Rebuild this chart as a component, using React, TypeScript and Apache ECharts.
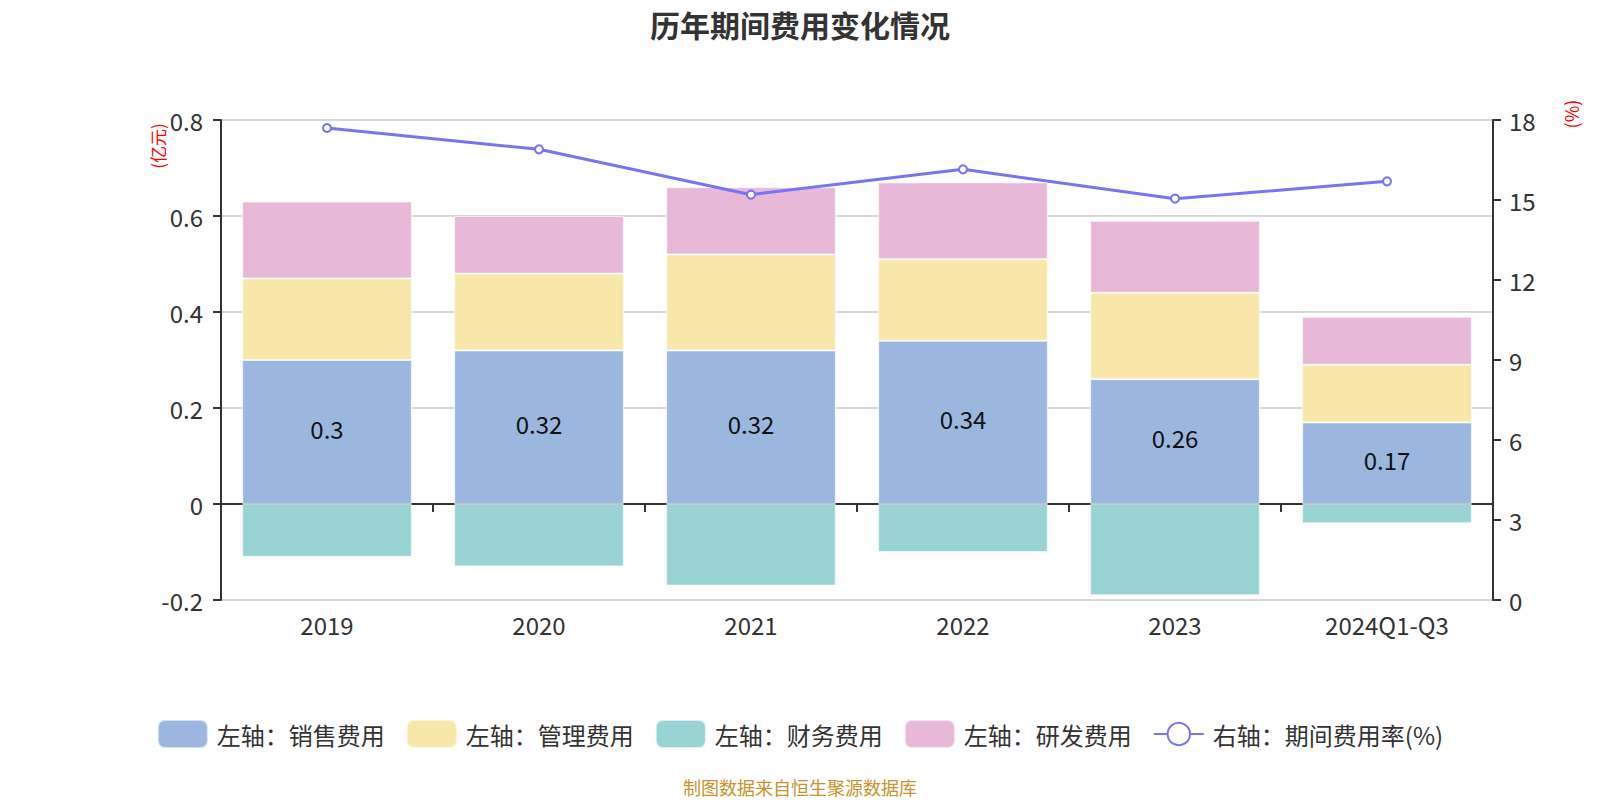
import React, { useEffect, useRef } from "react";
import * as echarts from "echarts";

const categories = ["2019", "2020", "2021", "2022", "2023", "2024Q1-Q3"];
const salesExpense = [0.3, 0.32, 0.32, 0.34, 0.26, 0.17];
const adminExpense = [0.17, 0.16, 0.2, 0.17, 0.18, 0.12];
const financeExpense = [-0.11, -0.13, -0.17, -0.1, -0.19, -0.04];
const rdExpense = [0.16, 0.12, 0.14, 0.16, 0.15, 0.1];
const expenseRate = [17.7, 16.9, 15.2, 16.15, 15.05, 15.7];

const FONT = "'Noto Sans CJK SC', 'Noto Sans', sans-serif";

export default function App() {
  const ref = useRef<HTMLDivElement>(null);
  useEffect(() => {
    if (!ref.current) return;
    const chart = echarts.init(ref.current, undefined, { renderer: "svg" });
    const barBorder = { borderColor: "rgba(255,255,255,0.6)", borderWidth: 1 };
    chart.setOption({
      animation: false,
      backgroundColor: "#fff",
      textStyle: { fontFamily: FONT },
      title: {
        text: "历年期间费用变化情况",
        left: "center",
        top: 4,
        textStyle: { fontSize: 30, fontWeight: "bold", color: "#333", fontFamily: FONT },
      },
      legend: {
        top: 714,
        left: "center",
        itemWidth: 50,
        itemHeight: 28,
        itemGap: 21,
        textStyle: { fontSize: 24, color: "#333", padding: [0, 0, 0, 4], fontFamily: FONT },
        data: [
          { name: "左轴：销售费用", icon: "roundRect" },
          { name: "左轴：管理费用", icon: "roundRect" },
          { name: "左轴：财务费用", icon: "roundRect" },
          { name: "左轴：研发费用", icon: "roundRect" },
          { name: "右轴：期间费用率(%)" },
        ],
      },
      grid: { left: 221, right: 107, top: 120, bottom: 200 },
      xAxis: [
        {
          type: "category",
          data: categories,
          axisLine: { onZero: true, onZeroAxisIndex: 0, lineStyle: { color: "#333", width: 2 } },
          axisTick: { show: true, length: 8, lineStyle: { color: "#333", width: 2 } },
          axisLabel: { show: false },
          splitLine: { show: false },
        },
        {
          type: "category",
          data: categories,
          position: "bottom",
          axisLine: { show: false, onZero: false },
          axisTick: { show: false },
          axisLabel: { show: true, fontSize: 24, color: "#333", margin: 12, fontFamily: FONT },
          splitLine: { show: false },
        },
      ],
      yAxis: [
        {
          type: "value",
          min: -0.2,
          max: 0.8,
          interval: 0.2,
          axisLine: { show: true, lineStyle: { color: "#333", width: 2 } },
          axisTick: { show: true, length: 8, lineStyle: { color: "#333", width: 2 } },
          axisLabel: { fontSize: 24, color: "#333", margin: 18, fontFamily: FONT },
          splitLine: { show: true, lineStyle: { color: "#ccc", width: 1.5 } },
        },
        {
          type: "value",
          min: 0,
          max: 18,
          interval: 3,
          position: "right",
          axisLine: { show: true, lineStyle: { color: "#333", width: 2 } },
          axisTick: { show: true, length: 8, lineStyle: { color: "#333", width: 2 } },
          axisLabel: { fontSize: 24, color: "#333", margin: 16, fontFamily: FONT },
          splitLine: { show: false },
        },
      ],
      series: [
        {
          name: "左轴：销售费用",
          type: "bar",
          stack: "total",
          barWidth: "80%",
          data: salesExpense,
          itemStyle: { color: "#9bb7e0", ...barBorder },
          label: {
            show: true,
            position: "inside",
            offset: [0, -4],
            color: "#111",
            fontSize: 24,
            fontFamily: FONT,
          },
        },
        {
          name: "左轴：管理费用",
          type: "bar",
          stack: "total",
          data: adminExpense,
          itemStyle: { color: "#f8e7a9", ...barBorder },
        },
        {
          name: "左轴：财务费用",
          type: "bar",
          stack: "total",
          data: financeExpense,
          itemStyle: { color: "#98d4d4", ...barBorder },
        },
        {
          name: "左轴：研发费用",
          type: "bar",
          stack: "total",
          data: rdExpense,
          itemStyle: { color: "#e7b8d8", ...barBorder },
        },
        {
          name: "右轴：期间费用率(%)",
          type: "line",
          yAxisIndex: 1,
          data: expenseRate,
          symbol: "emptyCircle",
          symbolSize: 8,
          lineStyle: { color: "#7676f5", width: 3 },
          itemStyle: { color: "#7676f5", borderWidth: 1.5 },
          z: 5,
        },
      ],
      graphic: [
        {
          type: "text",
          x: 157,
          y: 146,
          rotation: Math.PI / 2,
          style: {
            text: "(亿元)",
            fill: "#ff0000",
            fontSize: 17,
            fontFamily: FONT,
            align: "center",
            verticalAlign: "middle",
          },
        },
        {
          type: "text",
          x: 1571,
          y: 114,
          rotation: Math.PI / 2,
          style: {
            text: "(%)",
            fill: "#ff0000",
            fontSize: 18,
            fontFamily: FONT,
            align: "center",
            verticalAlign: "middle",
          },
        },
        {
          type: "text",
          x: 800,
          y: 787,
          style: {
            text: "制图数据来自恒生聚源数据库",
            fill: "#c8932b",
            fontSize: 18,
            fontFamily: FONT,
            align: "center",
            verticalAlign: "middle",
          },
        },
      ],
    });
    return () => chart.dispose();
  }, []);
  return (
    <div
      ref={ref}
      style={{ position: "fixed", left: 0, top: 0, width: 1600, height: 800 }}
    />
  );
}
